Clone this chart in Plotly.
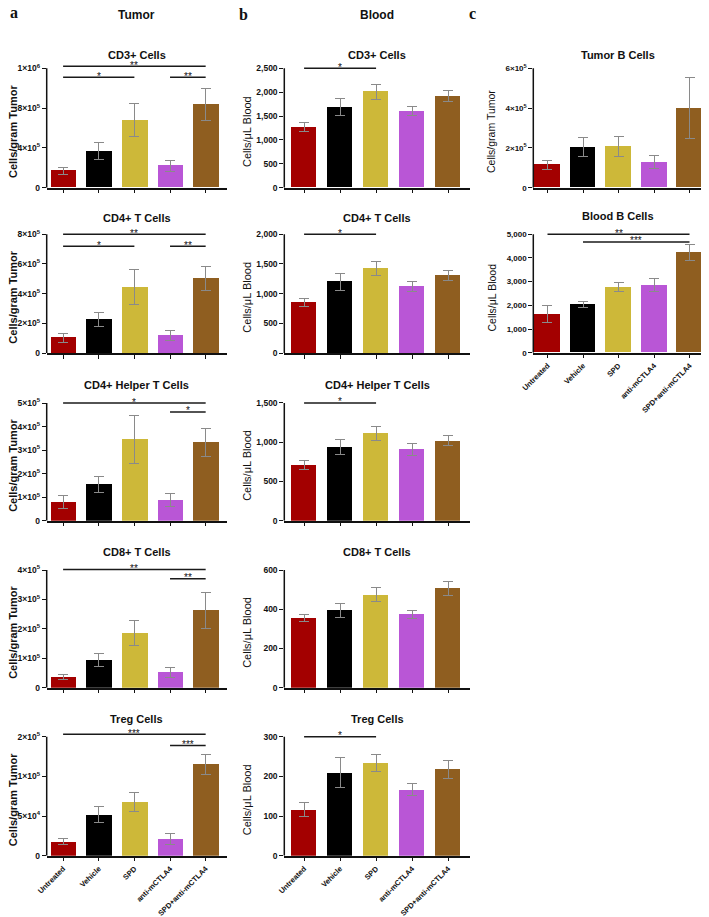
import plotly.graph_objects as go

# the page body keeps its default 8px margin, so positions below are page pixels
# and are shifted by OFF when converted to paper fractions
OFF = 8
W, H = 709 - OFF, 917 - OFF

groups = ["Untreated", "Vehicle", "SPD", "anti-mCTLA4", "SPD+anti-mCTLA4"]
bar_colors = ["#a30000", "#000000", "#cdb839", "#b956d6", "#8f5e20"]

# a: tumor, cells/gram tumor (mean, SEM)
tumor_cd3 = [1.7e5, 3.7e5, 6.8e5, 2.2e5, 8.4e5]
tumor_cd3_err = [0.33e5, 0.83e5, 1.67e5, 0.53e5, 1.6e5]
tumor_cd4 = [1.03e5, 2.25e5, 4.45e5, 1.17e5, 5.03e5]
tumor_cd4_err = [0.3e5, 0.47e5, 1.19e5, 0.36e5, 0.81e5]
tumor_cd4h = [0.8e5, 1.54e5, 3.45e5, 0.89e5, 3.32e5]
tumor_cd4h_err = [0.27e5, 0.34e5, 1.01e5, 0.27e5, 0.59e5]
tumor_cd8 = [0.37e5, 0.94e5, 1.86e5, 0.53e5, 2.63e5]
tumor_cd8_err = [0.08e5, 0.23e5, 0.43e5, 0.17e5, 0.61e5]
tumor_treg = [1.8e4, 5.17e4, 6.8e4, 2.14e4, 11.55e4]
tumor_treg_err = [0.4e4, 0.97e4, 1.18e4, 0.68e4, 1.26e4]

# b: blood, cells/uL
blood_cd3 = [1270, 1690, 2010, 1600, 1920]
blood_cd3_err = [90, 180, 160, 90, 120]
blood_cd4 = [855, 1200, 1420, 1120, 1305]
blood_cd4_err = [67, 140, 118, 90, 90]
blood_cd4h = [712, 936, 1110, 907, 1017]
blood_cd4h_err = [55, 98, 85, 76, 63]
blood_cd8 = [354, 393, 474, 374, 506]
blood_cd8_err = [19, 35, 37, 19, 35]
blood_treg = [117, 210, 234, 167, 218]
blood_treg_err = [18, 37, 22, 15, 23]

# c: B cells
tumor_b = [1.15e5, 2.03e5, 2.08e5, 1.29e5, 4.0e5]
tumor_b_err = [0.24e5, 0.48e5, 0.5e5, 0.35e5, 1.54e5]
blood_b = [1630, 2030, 2775, 2860, 4230]
blood_b_err = [366, 141, 197, 282, 330]

# significance bars: (from group, to group, height, stars)
tumor_cd3_sig = [(0, 4, 1.22e6, "**"), (0, 2, 1.11e6, "*"), (3, 4, 1.11e6, "**")]
tumor_cd4_sig = [(0, 4, 8.0e5, "**"), (0, 2, 7.2e5, "*"), (3, 4, 7.2e5, "**")]
tumor_cd4h_sig = [(0, 4, 5.0e5, "*"), (3, 4, 4.62e5, "*")]
tumor_cd8_sig = [(0, 4, 4.02e5, "**"), (3, 4, 3.7e5, "**")]
tumor_treg_sig = [(0, 4, 1.53e5, "***"), (3, 4, 1.39e5, "***")]
blood_cd3_sig = [(0, 2, 2500, "*")]
blood_cd4_sig = [(0, 2, 2000, "*")]
blood_cd4h_sig = [(0, 2, 1500, "*")]
blood_treg_sig = [(0, 2, 300, "*")]
blood_b_sig = [(0, 4, 5000, "**"), (1, 4, 4676, "***")]

def sci(m, e):
    return f"{m}×10<sup>{e}</sup>"

tumor_cd3_ticks = ([0, 4e5, 8e5, 1.2e6], ["0", sci(4, 5), sci(8, 5), sci(1, 6)])
tumor_cd4_ticks = ([0, 2e5, 4e5, 6e5, 8e5], ["0", sci(2, 5), sci(4, 5), sci(6, 5), sci(8, 5)])
tumor_cd4h_ticks = ([0, 1e5, 2e5, 3e5, 4e5, 5e5], ["0"] + [sci(k, 5) for k in range(1, 6)])
tumor_cd8_ticks = ([0, 1e5, 2e5, 3e5, 4e5], ["0"] + [sci(k, 5) for k in range(1, 5)])
tumor_treg_ticks = ([0, 5e4, 1e5, 1.5e5], ["0", sci(5, 4), sci(1, 5), sci(2, 5)])
tumor_b_ticks = ([0, 2e5, 4e5, 6e5], ["0", sci(2, 5), sci(4, 5), sci(6, 5)])

def lin(top, step):
    vals = list(range(0, top + 1, step))
    return (vals, [f"{v:,}" for v in vals])

panels = [
    ("a", 0, "CD3+ Cells", tumor_cd3, tumor_cd3_err, tumor_cd3_ticks, tumor_cd3_sig),
    ("a", 1, "CD4+ T Cells", tumor_cd4, tumor_cd4_err, tumor_cd4_ticks, tumor_cd4_sig),
    ("a", 2, "CD4+ Helper T Cells", tumor_cd4h, tumor_cd4h_err, tumor_cd4h_ticks, tumor_cd4h_sig),
    ("a", 3, "CD8+ T Cells", tumor_cd8, tumor_cd8_err, tumor_cd8_ticks, tumor_cd8_sig),
    ("a", 4, "Treg Cells", tumor_treg, tumor_treg_err, tumor_treg_ticks, tumor_treg_sig),
    ("b", 0, "CD3+ Cells", blood_cd3, blood_cd3_err, lin(2500, 500), blood_cd3_sig),
    ("b", 1, "CD4+ T Cells", blood_cd4, blood_cd4_err, lin(2000, 500), blood_cd4_sig),
    ("b", 2, "CD4+ Helper T Cells", blood_cd4h, blood_cd4h_err, lin(1500, 500), blood_cd4h_sig),
    ("b", 3, "CD8+ T Cells", blood_cd8, blood_cd8_err, lin(600, 200), []),
    ("b", 4, "Treg Cells", blood_treg, blood_treg_err, lin(300, 100), blood_treg_sig),
    ("c", 0, "Tumor B Cells", tumor_b, tumor_b_err, tumor_b_ticks, []),
    ("c", 1, "Blood B Cells", blood_b, blood_b_err, lin(5000, 1000), blood_b_sig),
]

# column: x domain px, category range, bar width, y-title x, y-title bold, y-title size, tick size
col_x = {"a": (46.7, 226.7, [-0.46, 4.59], 0.72, 13, True, 11, 8.5),
         "b": (284.3, 470, [-0.55, 4.61], 0.70, 247, False, 11, 8.5),
         "c": (533.3, 702.3, [-0.40, 4.36], 0.72, 491, False, 10.5, 8)}
row_y = [(68.3, 187.7), (234.3, 353), (403, 520.7), (570, 687.7), (736.7, 855.7)]
title_y = [55, 218, 385, 552, 719]
HEADROOM = 0.05  # extra y range above the top tick so the bracket lines are not clipped

FONT = "Liberation Sans, Arial, sans-serif"
INK = "#111111"

def fx(p):
    return (p - OFF) / W

def fy(p):
    return 1 - (p - OFF) / H

fig = go.Figure()
layout = {}
annotations = []
shapes = []

for i, (col, row, title, vals, errs, ticks, sig) in enumerate(panels, start=1):
    x0, x1, xr, bw, ytx, bold, ysize, tsize = col_x[col]
    y0, y1 = row_y[row]
    if col == "c" and row == 1:
        y1 = 352.7
    top = ticks[0][-1]
    y0_ext = y0 - HEADROOM * (y1 - y0)
    xn = "x" if i == 1 else f"x{i}"
    yn = "y" if i == 1 else f"y{i}"
    xk = "xaxis" if i == 1 else f"xaxis{i}"
    yk = "yaxis" if i == 1 else f"yaxis{i}"
    show_cats = (row == 4) or (col == "c" and row == 1)

    fig.add_trace(go.Bar(
        x=groups, y=vals, width=bw, marker_color=bar_colors, marker_line_width=0,
        error_y=dict(type="data", array=errs, color="#8a8a8a", thickness=1, width=5),
        xaxis=xn, yaxis=yn, showlegend=False, hoverinfo="skip"))

    for s, e, h, stars in sig:
        fig.add_trace(go.Scatter(
            x=[groups[s], groups[e]], y=[h, h], mode="lines",
            line=dict(color="#1a1a1a", width=1.5), cliponaxis=False,
            xaxis=xn, yaxis=yn, showlegend=False, hoverinfo="skip"))
        annotations.append(dict(
            x=(s + e) / 2, y=h, xref=xn, yref=yn, text=stars, showarrow=False,
            xanchor="center", yanchor="bottom", yshift=-6.5,
            font=dict(family=FONT, size=10, color=INK)))

    # y axis line only up to the top tick
    shapes.append(dict(type="line", xref=f"{xn} domain", yref=yn, x0=0, x1=0, y0=0, y1=top,
                       line=dict(color=INK, width=1.5)))

    layout[xk] = dict(
        domain=[fx(x0), fx(x1)], range=xr, anchor=yn, showline=True, linecolor=INK,
        linewidth=1.5, ticks="outside", ticklen=4, tickwidth=1, tickcolor=INK,
        showgrid=False, zeroline=False, showticklabels=show_cats, tickangle=-45,
        automargin=False,
        tickfont=dict(family=FONT, size=7.5, color=INK, weight="bold"))
    layout[yk] = dict(
        domain=[fy(y1), fy(y0_ext)], range=[0, top * (1 + HEADROOM)], anchor=xn,
        showline=False, ticks="outside", ticklen=4, tickwidth=1,
        tickcolor=INK, tickvals=ticks[0], ticktext=ticks[1], showgrid=False,
        zeroline=False, automargin=False,
        tickfont=dict(family=FONT, size=tsize, color=INK, weight="bold"))

    annotations.append(dict(
        x=fx((x0 + x1) / 2), y=fy(title_y[row] if not (col == "c" and row == 1) else 216),
        xref="paper", yref="paper", xanchor="center", yanchor="middle",
        text=f"<b>{title}</b>", showarrow=False,
        font=dict(family=FONT, size=11, color=INK)))

    ytitle = "Cells/gram Tumor" if (col == "a" or (col == "c" and row == 0)) else "Cells/μL Blood"
    annotations.append(dict(
        x=fx(ytx), y=fy((y0 + y1) / 2 + 4), xref="paper", yref="paper",
        xanchor="center", yanchor="middle",
        text=f"<b>{ytitle}</b>" if bold else ytitle, textangle=-90, showarrow=False,
        font=dict(family=FONT, size=ysize, color=INK)))

for txt, px, py in [("a", 14, 13), ("b", 243, 15), ("c", 472, 14)]:
    annotations.append(dict(x=fx(px), y=fy(py), xref="paper", yref="paper",
                            xanchor="center", yanchor="middle", text=f"<b>{txt}</b>",
                            showarrow=False,
                            font=dict(family="Liberation Serif, Times New Roman, serif", size=16, color=INK)))
for txt, px in [("Tumor", 136), ("Blood", 377)]:
    annotations.append(dict(x=fx(px), y=fy(15), xref="paper", yref="paper",
                            xanchor="center", yanchor="middle", text=f"<b>{txt}</b>",
                            showarrow=False, font=dict(family=FONT, size=12, color=INK)))

fig.update_layout(
    width=W, height=H, margin=dict(l=0, r=0, t=0, b=0, autoexpand=False),
    paper_bgcolor="white", plot_bgcolor="white", bargap=0,
    annotations=annotations, shapes=shapes, **layout)

fig.write_html("out.html")
